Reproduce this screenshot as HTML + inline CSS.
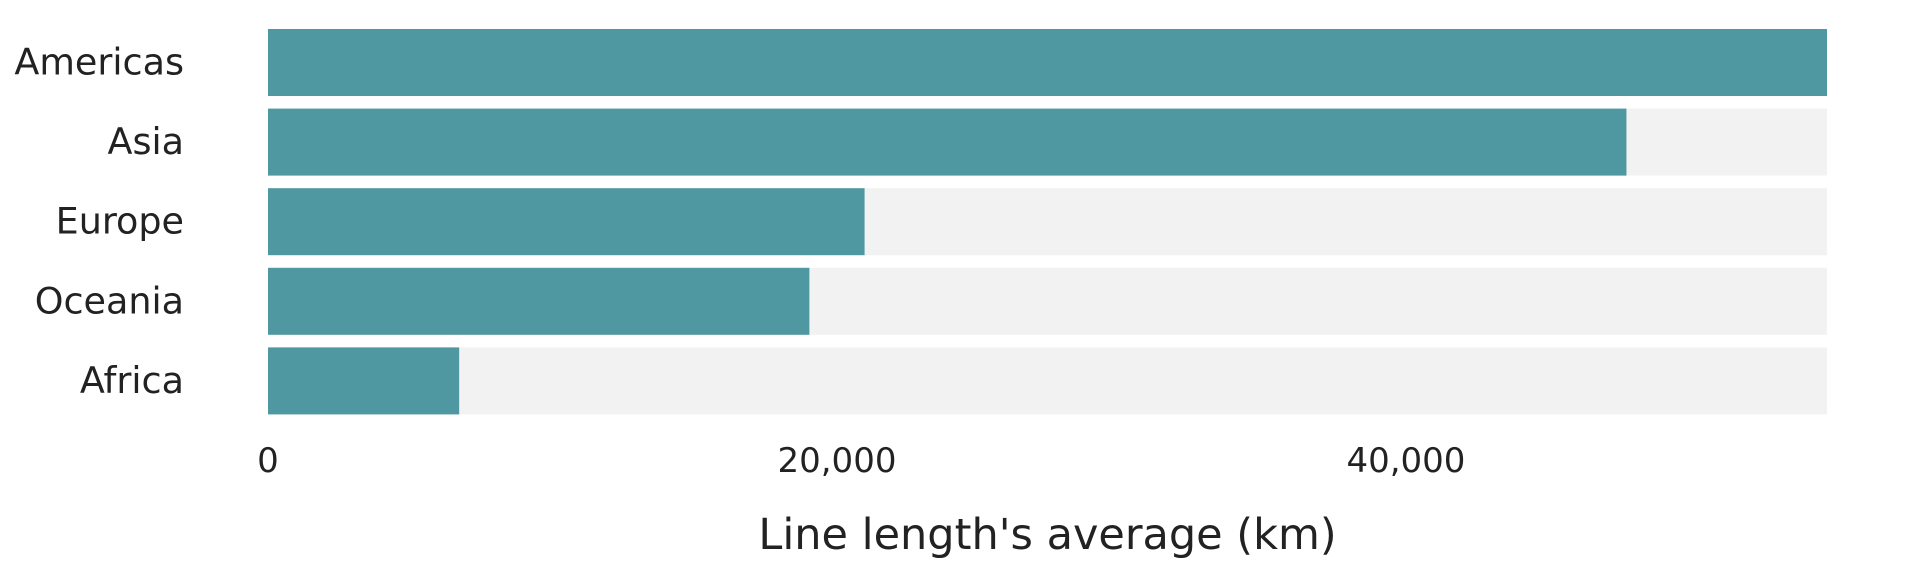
<!DOCTYPE html>
<html><head><meta charset="utf-8"><style>
html,body{margin:0;padding:0;background:#fff;}
svg{display:block;font-family:"DejaVu Sans","Liberation Sans",sans-serif;}
</style></head><body>
<svg id="chart" width="1920" height="576"></svg>
<script>
const categories = ["Americas","Asia","Europe","Oceania","Africa"];
const values = [54800, 47750, 20970, 19030, 6720];
const tickValues = [0, 20000, 40000];
const tickLabels = ["0","20,000","40,000"];
const axisMax = 54800;

const NS = "http://www.w3.org/2000/svg";
const svg = document.getElementById("chart");
const x0 = 268, x1 = 1827, top0 = 29, pitch = 79.6, bh = 67;
const xs = v => x0 + (v / axisMax) * (x1 - x0);
const ys = i => top0 + i * pitch;
function mk(tag, attrs){const e=document.createElementNS(NS,tag);for(const k in attrs)e.setAttribute(k,attrs[k]);svg.appendChild(e);return e;}

categories.forEach((c,i)=>{
  const bg = mk("rect",{x:x0,y:ys(i),width:x1-x0,height:bh,fill:"#f2f2f2"});
  
  
  const b = mk("rect",{x:x0,y:ys(i),width:xs(values[i])-x0,height:bh,fill:"#4f98a1"});
  
  
  const t = mk("text",{x:184,y:ys(i)+bh/2+12,"text-anchor":"end","font-size":36.5,fill:"#222"});
  t.textContent = c;
  
  
});
tickValues.forEach((v,i)=>{
  const t = mk("text",{x:xs(v),y:472,"text-anchor":"middle","font-size":34,fill:"#222"});
  t.textContent = tickLabels[i];
  
  
});
const title = mk("text",{x:(x0+x1)/2,y:549,"text-anchor":"middle","font-size":43,fill:"#222"});
title.textContent = "Line length's average (km)";


</script>
</body></html>
